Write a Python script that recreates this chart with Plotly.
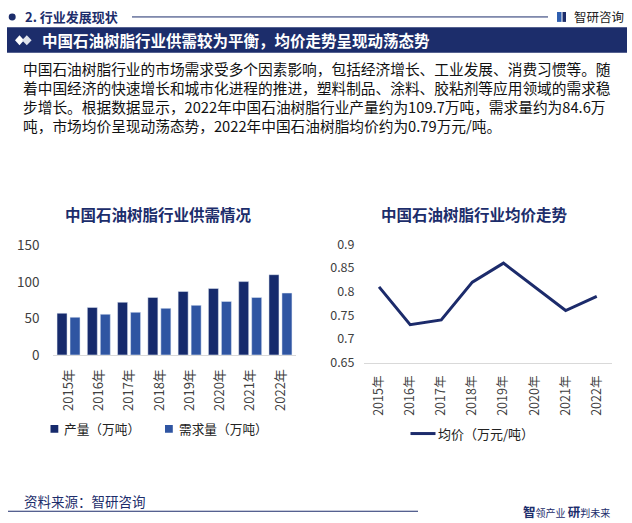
import plotly.graph_objects as go

W, H = 632, 523

# ---------------- data ----------------
years = ["2015年", "2016年", "2017年", "2018年", "2019年", "2020年", "2021年", "2022年"]
production = [57, 65, 72, 78.6, 86.7, 90.8, 100.3, 109.7]   # 产量（万吨）
demand = [51.5, 55.6, 58.3, 63.7, 67.8, 73.2, 78.6, 84.6]     # 需求量（万吨）
avg_price = [0.81, 0.73, 0.74, 0.82, 0.86, 0.81, 0.76, 0.79]  # 均价（万元/吨）

bar_ticks = [0, 50, 100, 150]
price_ticks = [0.65, 0.7, 0.75, 0.8, 0.85, 0.9]
price_tick_text = ["0.65", "0.7", "0.75", "0.8", "0.85", "0.9"]

title_main = "中国石油树脂行业供需较为平衡，均价走势呈现动荡态势"
section = "2. 行业发展现状"
para_lines = [
    "中国石油树脂行业的市场需求受多个因素影响，包括经济增长、工业发展、消费习惯等。随",
    "着中国经济的快速增长和城市化进程的推进，塑料制品、涂料、胶粘剂等应用领域的需求稳",
    "步增长。根据数据显示，2022年中国石油树脂行业产量约为109.7万吨，需求量约为84.6万",
    "吨，市场均价呈现动荡态势，2022年中国石油树脂均价约为0.79万元/吨。",
]
left_title = "中国石油树脂行业供需情况"
right_title = "中国石油树脂行业均价走势"
legend_names = ["产量（万吨）", "需求量（万吨）", "均价（万元/吨）"]
source = "资料来源：智研咨询"

# ---------------- styling ----------------
NAVY = "#1c2d6b"
C_PROD = "#162a6c"
C_DEM = "#2f55a2"
C_LINE = "#1c2b6b"
FONT = "Noto Sans CJK SC"
TICK_C = "#404040"

# the photographed page maps page-y to picture-y as  pic = 8 + 0.9703 * page
V_OFF, V_SC = 8.0, 0.9703


def px(x):
    return x / W


def py(y):
    """picture-pixel y (from top) -> paper fraction"""
    page_y = (y - V_OFF) / V_SC
    return 1 - page_y / H


fig = go.Figure()

fig.add_trace(go.Bar(x=years, y=production, name=legend_names[0], marker_color=C_PROD,
                     xaxis="x", yaxis="y", showlegend=False))
fig.add_trace(go.Bar(x=years, y=demand, name=legend_names[1], marker_color=C_DEM,
                     xaxis="x", yaxis="y", showlegend=False))
fig.add_trace(go.Scatter(x=years, y=avg_price, name=legend_names[2], mode="lines",
                         line=dict(color=C_LINE, width=3), xaxis="x2", yaxis="y2",
                         showlegend=False))

axis_common = dict(showgrid=False, zeroline=False, ticks="", fixedrange=True)

fig.update_layout(
    width=W, height=H,
    margin=dict(l=0, r=0, t=0, b=0),
    paper_bgcolor="white", plot_bgcolor="rgba(0,0,0,0)",
    font=dict(family=FONT, color=TICK_C),
    barmode="group", bargap=0.142, bargroupgap=0.23,
    xaxis=dict(domain=[px(53.4), px(295.6)], type="category", range=[-0.5, 7.5],
               tickangle=-90, tickfont=dict(size=13, color=TICK_C),
               showline=True, linecolor="#d9d9d9", linewidth=1,
               ticklabelstandoff=8, anchor="y", **axis_common),
    yaxis=dict(domain=[py(355), py(244.3)], range=[0, 150], tickvals=bar_ticks,
               tickfont=dict(size=13.5, color=TICK_C), showline=False,
               ticklabelstandoff=13, anchor="x", **axis_common),
    xaxis2=dict(domain=[px(363.5), px(612.3)], type="category", range=[-0.5, 7.5],
                tickangle=-90, tickfont=dict(size=12.5, color=TICK_C),
                showline=True, linecolor="#d9d9d9", linewidth=1,
                ticklabelstandoff=7, anchor="y2", **axis_common),
    yaxis2=dict(domain=[py(362.7), py(243.3)], range=[0.65, 0.9], tickvals=price_ticks,
                ticktext=price_tick_text, tickfont=dict(size=12.5, color=TICK_C),
                showline=False, ticklabelstandoff=8, anchor="x2", **axis_common),
)

shapes = []
ann = []


def text(x, y, s, size, color, anchor="left"):
    ann.append(dict(x=px(x), y=py(y), xref="paper", yref="paper", text=s, showarrow=False,
                    xanchor=anchor, yanchor="middle",
                    font=dict(size=size, color=color, family=FONT)))


def rect(x0, x1, y0, y1, color):
    shapes.append(dict(type="rect", xref="paper", yref="paper", x0=px(x0), x1=px(x1),
                       y0=py(y1), y1=py(y0), fillcolor=color, line=dict(width=0)))


def hline(x0, x1, y, color, width):
    shapes.append(dict(type="line", xref="paper", yref="paper", x0=px(x0), x1=px(x1),
                       y0=py(y), y1=py(y), line=dict(color=color, width=width)))


def diamond(cx, cy, hw, hh, color):
    shapes.append(dict(type="path", xref="paper", yref="paper",
                       path=(f"M {px(cx - hw)} {py(cy)} L {px(cx)} {py(cy - hh)} "
                             f"L {px(cx + hw)} {py(cy)} L {px(cx)} {py(cy + hh)} Z"),
                       fillcolor=color, line=dict(width=0)))


# header
shapes.append(dict(type="circle", xref="paper", yref="paper",
                   x0=px(8.7), x1=px(15.7), y0=py(17.5), y1=py(10.5),
                   fillcolor=NAVY, line=dict(width=0)))
text(23, 14, "<b>" + section + "</b>", 13, NAVY)
hline(132, 548, 14, NAVY, 1)
# logo icon
rect(557, 561.5, 9, 19, "#2f5fb0")
rect(562.5, 566, 9, 19, NAVY)
text(572, 14, "智研咨询", 12.5, "#222222")

# title band
rect(7, 627, 24.5, 50, NAVY)
diamond(19.5, 37.5, 4.5, 5, "white")
diamond(26.8, 37.5, 4.8, 5, "#dfe3ec")
text(40, 37.5, "<b>" + title_main + "</b>", 15.5, "white")

# paragraph (one block)
ann.append(dict(x=px(21), y=py(94.3), xref="paper", yref="paper",
                text="<br>".join(para_lines), showarrow=False, xanchor="left",
                yanchor="middle", align="left",
                font=dict(size=14.7, color="#111111", family=FONT)))

# chart titles
text(158.5, 212.7, "<b>" + left_title + "</b>", 15.5, NAVY, "center")
text(474.5, 213, "<b>" + right_title + "</b>", 15.5, NAVY, "center")

# legends (left)
rect(50.5, 58.3, 425.7, 433.5, C_PROD)
text(62, 429.5, legend_names[0], 12.7, "#222222")
rect(165, 172.8, 425.7, 433.5, C_DEM)
text(176.5, 429.5, legend_names[1], 12.7, "#222222")
# legend (right)
hline(410.5, 435.5, 434.3, C_LINE, 3)
text(436, 434.3, legend_names[2], 13, "#222222")

# footer
text(22, 502.5, source, 13.5, NAVY)
hline(8, 418, 512.7, NAVY, 1.2)
text(521, 512.5,
     "<b>智</b><span style='font-size:10px'>领产业 </span><b>研</b><span style='font-size:10px'>判未来</span>",
     12.5, NAVY)

fig.update_layout(shapes=shapes, annotations=ann)

fig.write_html("out.html", config={"displayModeBar": False})
